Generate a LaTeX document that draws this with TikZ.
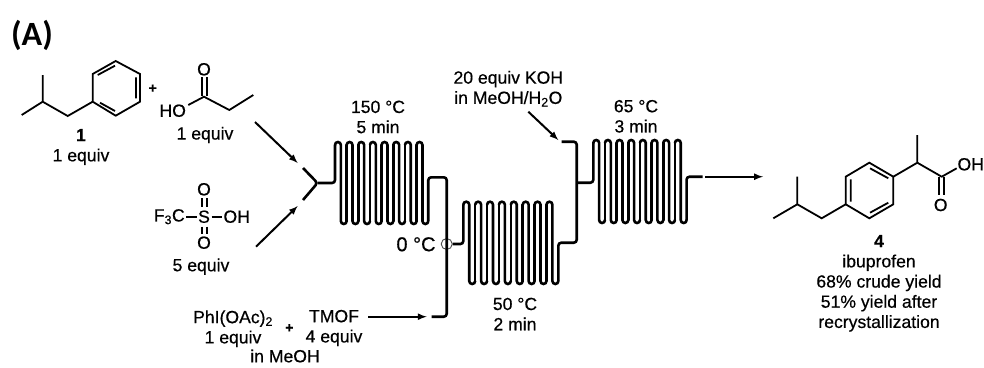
\documentclass[tikz,border=0pt]{standalone}
\usepackage{fontspec}
\setmainfont{Liberation Sans}[FakeBold=0.5]
\newfontfamily\panelfont{Carlito}
\tikzset{
  tube/.style={line width=2.6pt,rounded corners=2.9pt},
  hairpin/.style={line width=2.6pt,line cap=round},
  bond/.style={line width=1.8pt},
  feed/.style={line width=2pt,-latex},
  chem/.style={inner sep=0pt,align=center,font=\fontsize{17.6}{20.2}\selectfont},
}
\newcommand{\coil}[6]{%
\pgfmathsetmacro{\hi}{#4+#3/2}
\pgfmathsetmacro{\lo}{#5-#3/2}
\pgfmathsetmacro{\rad}{#3/2}
\draw[tube] (#1) -| (#2,\hi);
\foreach \k in {0,...,7} {
  \pgfmathsetmacro{\xa}{#2+2*\k*#3}
  \pgfmathsetmacro{\xb}{#2+(2*\k+1)*#3}
  \draw[hairpin] (\xa,\hi) arc[start angle=180,end angle=0,radius=\rad pt] -- (\xb,\lo) arc[start angle=180,end angle=360,radius=\rad pt];
}
\foreach \k in {1,...,7} {
  \pgfmathsetmacro{\xa}{#2+2*\k*#3}
  \draw[hairpin] (\xa,\lo) -- (\xa,\hi);
}
\pgfmathsetmacro{\xa}{#2+16*#3}
\draw[tube] (\xa,\lo) #6;}
\begin{document}
\begin{tikzpicture}[x=1pt,y=-1pt]
\useasboundingbox (0,0) rectangle (984,367);
\node[inner sep=0pt,font=\panelfont\bfseries\fontsize{34}{34}\selectfont] (panel) at (32,35) {(A)};
\draw[bond] (21.7,115) -- (42.7,101.7) -- (42.7,75);
\draw[bond] (42.7,101.7) -- (67.7,116) -- (92.7,101.7);
\draw[bond] (92.7,101.7) -- (92.7,74) -- (115.7,61) -- (140,74) -- (140,101.7) -- (115.7,115.7) -- cycle;
\draw[bond] (97.7,75) -- (115,65.7) (136,77.3) -- (136,98.3) (100,102.7) -- (115,111);
\node[chem] (sm) at (81,147) {\textbf{1}\\1 equiv};
\node[chem,font=\bfseries\fontsize{14}{14}\selectfont] (plusa) at (152.7,88.7) {+};
\node[chem] (ho) at (172.7,110.7) {HO};
\node[chem] (acido) at (204,69.3) {O};
\draw[bond] (ho) ++(15.6,-5.7) -- (204,96.7) -- (229.3,110) -- (253.3,95);
\draw[bond] (201.7,77.3) -- (201.7,96) (206.7,77.3) -- (206.7,96);
\node[chem] (acideq) at (205,135) {1 equiv};
\node[chem] (tfs) at (204,216.7) {S};
\node[chem] (tfc) at (169.3,216.7) {F\textsubscript{3}C};
\node[chem] (tfh) at (236.7,216.7) {OH};
\node[chem] (tfo) at (204,189.3) {O};
\node[chem] (tfu) at (204,242.7) {O};
\draw[bond] (186,216.7) -- (196.7,216.7) (211.7,216.7) -- (221.7,216.7);
\draw[bond] (201.7,198.3) -- (201.7,206.7) (206.7,198.3) -- (206.7,206.7);
\draw[bond] (201.7,226.7) -- (201.7,234.3) (206.7,226.7) -- (206.7,234.3);
\node[chem] (tfeq) at (201,266.7) {5 equiv};
\node[chem] (pida) at (233,328.7) {PhI(OAc)\textsubscript{2}\\1 equiv};
\node[chem,font=\bfseries\fontsize{14}{14}\selectfont] (plusb) at (289.3,328.3) {+};
\node[chem] (tmof) at (334,328) {TMOF\\4 equiv};
\node[chem] (meoh) at (285,356) {in MeOH};
\coordinate (acidtail) at (255,122);
\coordinate (acidhead) at (297.7,163);
\coordinate (tftail) at (256,246.7);
\coordinate (tfhead) at (297.7,206);
\coordinate (ya) at (303,168);
\coordinate (yb) at (303,200);
\coordinate (mix) at (317.5,183);
\coordinate (teea) at (446.7,177.3);
\coordinate (tmofhead) at (426.7,316.7);
\coordinate (tmofin) at (431.7,316.7);
\coordinate (tmoftail) at (368.3,316.7);
\node[draw=black!70,line width=.9pt,circle,minimum size=11pt,inner sep=0pt] (chill) at (446.7,244) {};
\coordinate (teeb) at (576.7,182.7);
\coordinate (kohlow) at (576.7,242.7);
\coordinate (kohin) at (561.7,141.7);
\coordinate (kohtail) at (528.3,111.7);
\coordinate (kohhead) at (558.3,140);
\coordinate (outa) at (702.7,176.7);
\coordinate (outb) at (705,176.7);
\coordinate (outc) at (763,176.7);
\draw[feed] (acidtail) -- (acidhead);
\draw[feed] (tftail) -- (tfhead);
\draw[tube] (ya) -- (mix) -- (yb);
\coil{mix}{335}{5.83}{142}{224}{|- (teea) |- (tmofin)}
\draw[feed] (tmoftail) -- (tmofhead);
\coil{chill}{463.3}{5.94}{201.7}{284}{|- (kohlow) |- (kohin)}
\draw[feed] (kohtail) -- (kohhead);
\coil{teeb}{593.3}{5.83}{140}{223}{|- (outa)}
\draw[feed] (outb) -- (outc);
\node[chem] (stepa) at (378,117) {150 °C\\5 min};
\node[chem,font=\fontsize{20}{20}\selectfont] (cold) at (416,244.3) {0 °C};
\node[chem] (stepb) at (515,314) {50 °C\\2 min};
\node[chem] (koh) at (508.3,88.7) {20 equiv KOH\\in MeOH/H\textsubscript{2}O};
\node[chem] (stepc) at (636,116.3) {65 °C\\3 min};
\draw[bond] (773.3,218.3) -- (797.3,204.3) -- (797.3,176.7);
\draw[bond] (797.3,204.3) -- (821.7,218.3) -- (845.7,204.3);
\draw[bond] (845.7,204.3) -- (845.7,176.7) -- (869.3,162.7) -- (893.3,176.7) -- (893.3,204.3) -- (869.3,218.3) -- cycle;
\draw[bond] (850.7,201.7) -- (850.7,179.3) (870,168.3) -- (888.3,178.3) (870,212.7) -- (888.3,202.7);
\draw[bond] (893.3,176.7) -- (917.3,162.7) -- (917.3,135);
\draw[bond] (917.3,162.7) -- (941.7,176.7) -- (956.7,168.3);
\draw[bond] (939.3,176.7) -- (939.3,195) (944,176.7) -- (944,195);
\node[chem] (prodh) at (970.7,164.3) {OH};
\node[chem] (prodo) at (940.7,205) {O};
\node[chem] (prod) at (879,283.3) {\textbf{4}\\ibuprofen\\68\% crude yield\\51\% yield after\\recrystallization};
\end{tikzpicture}
\end{document}
